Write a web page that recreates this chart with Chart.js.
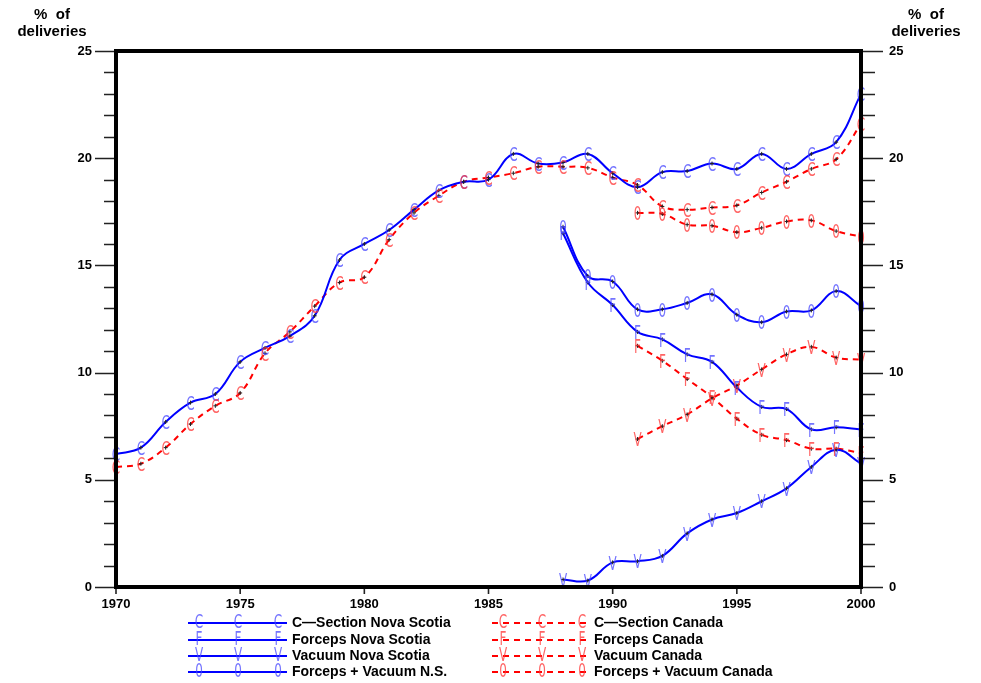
<!DOCTYPE html>
<html>
<head>
<meta charset="utf-8">
<script src="https://cdn.jsdelivr.net/npm/chart.js@4/dist/chart.umd.min.js"></script>
<style>
  html, body { margin: 0; padding: 0; background: #ffffff; }
  #wrap { width: 981px; height: 683px; }
</style>
</head>
<body>
<div id="wrap"><canvas id="chart" width="981" height="683"></canvas></div>
<script>
// Operative delivery rates, Nova Scotia vs Canada, 1970-2000 (% of deliveries)
const years = [1970, 1971, 1972, 1973, 1974, 1975, 1976, 1977, 1978, 1979,
               1980, 1981, 1982, 1983, 1984, 1985, 1986, 1987, 1988, 1989,
               1990, 1991, 1992, 1993, 1994, 1995, 1996, 1997, 1998, 1999, 2000];

const csectionNS = [6.2, 6.5, 7.7, 8.6, 9.0, 10.5, 11.15, 11.7, 12.65, 15.25,
                    16.0, 16.65, 17.6, 18.5, 18.9, 19.0, 20.2, 19.75, 19.8, 20.2,
                    19.3, 18.65, 19.35, 19.4, 19.75, 19.5, 20.2, 19.5, 20.2, 20.75, 23.0];
const csectionCA = [5.6, 5.75, 6.5, 7.6, 8.45, 9.05, 10.9, 11.9, 13.1, 14.2,
                    14.45, 16.2, 17.45, 18.25, 18.9, 19.1, 19.3, 19.6, 19.6, 19.55,
                    19.1, 18.75, 17.75, 17.6, 17.7, 17.8, 18.4, 18.9, 19.5, 19.95, 21.6];

// Nova Scotia instrumental series start in 1988
const forcepsNS   = [16.5, 14.2, 13.15, 11.9, 11.55, 10.85, 10.5, 9.3, 8.4, 8.3, 7.35, 7.45, 7.35];
const vacuumNS    = [0.35, 0.3, 1.15, 1.2, 1.45, 2.5, 3.15, 3.45, 4.0, 4.6, 5.6, 6.4, 5.75];
const forcVacNS   = [16.8, 14.5, 14.25, 12.95, 12.95, 13.25, 13.65, 12.7, 12.35, 12.85, 12.9, 13.8, 13.1];

// Canadian instrumental series start in 1991
const forcepsCA   = [11.25, 10.55, 9.7, 8.85, 7.85, 7.1, 6.85, 6.45, 6.45, 6.25];
const vacuumCA    = [6.9, 7.5, 8.05, 8.8, 9.4, 10.15, 10.85, 11.2, 10.7, 10.6];
const forcVacCA   = [17.45, 17.4, 16.9, 16.85, 16.55, 16.75, 17.05, 17.1, 16.6, 16.35];

const yTickLabels = [0, 5, 10, 15, 20, 25];
const xTickLabels = [1970, 1975, 1980, 1985, 1990, 1995, 2000];

const seriesNames = ['C\u2014Section Nova Scotia', 'Forceps Nova Scotia', 'Vacuum Nova Scotia', 'Forceps + Vacuum N.S.',
                     'C\u2014Section Canada', 'Forceps Canada', 'Vacuum Canada', 'Forceps + Vacuum Canada'];
const seriesSymbols = ['C', 'F', 'V', '0', 'C', 'F', 'V', '0'];

// align a series that begins in a later year with the full year axis
function fromYear(startYear, values) {
  const lead = years.indexOf(startYear);
  return years.map((y, i) => (i < lead ? null : values[i - lead]));
}

const BLUE = '#0000ff';
const RED = '#ff0000';
const BLUE_SYM = 'rgba(70,70,255,0.75)';
const RED_SYM = 'rgba(255,50,50,0.75)';
const DASH = [6, 5];

function lineSet(i, data, isCanada) {
  return {
    label: seriesNames[i],
    data: data,
    symbol: seriesSymbols[i],
    borderColor: isCanada ? RED : BLUE,
    borderWidth: 2,
    borderDash: isCanada ? DASH : [],
    tension: 0.4,
    pointRadius: 2,
    pointStyle: 'cross',
    pointBorderWidth: 1,
    pointBorderColor: '#222',
    pointHoverRadius: 0,
    fill: false,
    spanGaps: false
  };
}

const datasets = [
  lineSet(0, csectionNS, false),
  lineSet(1, fromYear(1988, forcepsNS), false),
  lineSet(2, fromYear(1988, vacuumNS), false),
  lineSet(3, fromYear(1988, forcVacNS), false),
  lineSet(4, csectionCA, true),
  lineSet(5, fromYear(1991, forcepsCA), true),
  lineSet(6, fromYear(1991, vacuumCA), true),
  lineSet(7, fromYear(1991, forcVacCA), true)
];

// tall, narrow plot letter
function drawSymbol(ctx, sym, x, y, color) {
  ctx.save();
  ctx.translate(x, y + 2);
  ctx.scale(0.6, 1);
  ctx.font = '20px "DejaVu Sans"';
  ctx.textAlign = 'center';
  ctx.textBaseline = 'middle';
  ctx.fillStyle = color;
  ctx.fillText(sym, 0, 0);
  ctx.restore();
}

// plot letters at every data point
const symbolPlugin = {
  id: 'symbols',
  afterDatasetsDraw(chart) {
    const ctx = chart.ctx;
    chart.data.datasets.forEach((ds, di) => {
      const meta = chart.getDatasetMeta(di);
      const color = di >= 4 ? RED_SYM : BLUE_SYM;
      meta.data.forEach((pt, i) => {
        if (ds.data[i] === null) return;
        drawSymbol(ctx, ds.symbol, pt.x, pt.y, color);
      });
    });
  }
};

// heavy frame, tick marks, axis titles and two-column legend
const framePlugin = {
  id: 'frame',
  afterDraw(chart) {
    const ctx = chart.ctx;
    const a = chart.chartArea;
    const yL = chart.scales.y;
    const xS = chart.scales.x;

    ctx.save();
    // tick marks
    ctx.strokeStyle = '#222';
    ctx.lineWidth = 1.6;
    for (let v = 0; v <= 25; v++) {
      const py = Math.round(yL.getPixelForValue(v)) + 0.5;
      const major = yTickLabels.includes(v);
      ctx.beginPath();
      ctx.moveTo(a.left, py);
      ctx.lineTo(a.left - (major ? 21 : 12), py);
      ctx.moveTo(a.right, py);
      ctx.lineTo(a.right + (major ? 22 : 14), py);
      ctx.stroke();
    }
    xTickLabels.forEach(yr => {
      const px = xS.getPixelForValue(years.indexOf(yr));
      ctx.beginPath();
      ctx.moveTo(px, a.bottom);
      ctx.lineTo(px, a.bottom + 7);
      ctx.stroke();
    });

    // frame
    ctx.strokeStyle = '#000';
    ctx.lineWidth = 4;
    ctx.strokeRect(a.left, a.top, a.right - a.left, a.bottom - a.top);

    // axis titles
    ctx.fillStyle = '#000';
    ctx.font = 'bold 15px "Liberation Sans"';
    ctx.textAlign = 'center';
    ctx.textBaseline = 'middle';
    [52, 926].forEach(cx => {
      ctx.fillText('%  of', cx, 15);
      ctx.fillText('deliveries', cx, 32);
    });

    // legend
    const rows = [623, 640, 656, 672];
    ctx.font = 'bold 14px "Liberation Sans"';
    ctx.textAlign = 'left';
    ctx.textBaseline = 'middle';
    const cols = [
      { x0: 188, x1: 287, marks: [199, 238, 278], text: 292 },
      { x0: 492, x1: 591, marks: [503, 542, 582], text: 594 }
    ];
    seriesNames.forEach((name, i) => {
      const c = cols[i < 4 ? 0 : 1];
      const ry = rows[i % 4];
      const isCanada = i >= 4;
      ctx.save();
      ctx.strokeStyle = isCanada ? RED : BLUE;
      ctx.lineWidth = 2;
      ctx.setLineDash(isCanada ? DASH : []);
      ctx.beginPath();
      ctx.moveTo(c.x0, ry);
      ctx.lineTo(c.x1, ry);
      ctx.stroke();
      ctx.restore();
      c.marks.forEach(mx => drawSymbol(ctx, seriesSymbols[i], mx, ry - 2, isCanada ? RED_SYM : BLUE_SYM));
      ctx.fillStyle = '#000';
      ctx.fillText(name, c.text, ry);
    });
    ctx.restore();
  }
};

const tickFont = { family: '"Liberation Sans"', size: 13, weight: 'bold' };

new Chart(document.getElementById('chart'), {
  type: 'line',
  data: { labels: years, datasets: datasets },
  options: {
    responsive: false,
    animation: false,
    events: [],
    layout: { padding: { top: 51, left: 0, right: 0, bottom: 0 } },
    plugins: {
      legend: { display: false },
      tooltip: { enabled: false },
      title: { display: false }
    },
    scales: {
      x: {
        type: 'category',
        offset: false,
        grid: { display: false },
        border: { display: false },
        ticks: {
          autoSkip: false,
          maxRotation: 0,
          padding: 2,
          color: '#000',
          font: tickFont,
          callback: function (v, i) { const yr = years[i]; return xTickLabels.includes(yr) ? String(yr) : ''; }
        },
        afterFit: s => { s.height = 96; }
      },
      y: {
        position: 'left',
        min: 0, max: 25,
        grid: { display: false },
        border: { display: false },
        ticks: {
          stepSize: 1, autoSkip: false, padding: 16, color: '#000', font: tickFont,
          callback: v => (yTickLabels.includes(v) ? String(v) : '')
        },
        afterFit: s => { s.width = 116; }
      },
      y2: {
        position: 'right',
        min: 0, max: 25,
        grid: { display: false },
        border: { display: false },
        ticks: {
          stepSize: 1, autoSkip: false, padding: 20, color: '#000', font: tickFont,
          callback: v => (yTickLabels.includes(v) ? String(v) : '')
        },
        afterFit: s => { s.width = 120; }
      }
    }
  },
  plugins: [symbolPlugin, framePlugin]
});
</script>
</body>
</html>
